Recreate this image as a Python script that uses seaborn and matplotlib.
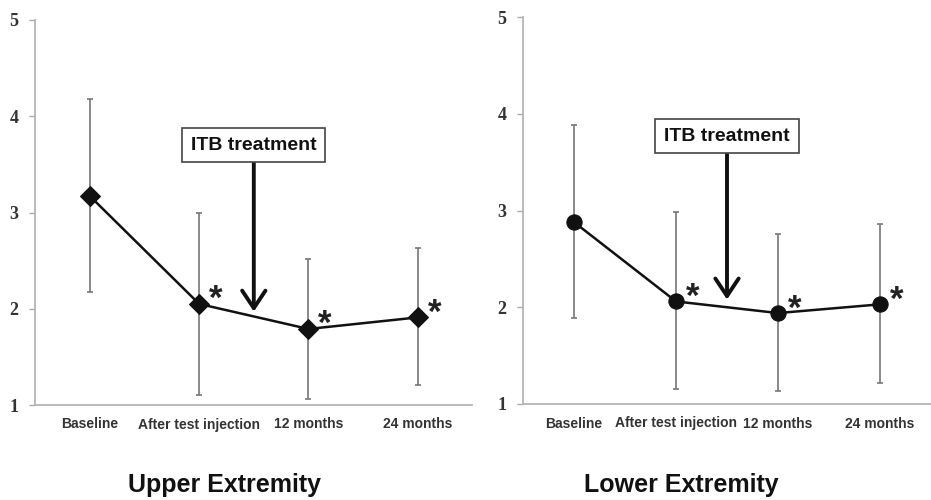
import numpy as np
import matplotlib
matplotlib.use("Agg")
import matplotlib.pyplot as plt
import seaborn as sns

# time points
categories = ["Baseline", "After test injection", "12 months", "24 months"]

# Upper extremity: mean and error bar ends
upper_mean = [3.17, 2.05, 1.79, 1.91]
upper_high = [4.18, 3.00, 2.52, 2.63]
upper_low = [2.17, 1.10, 1.06, 1.21]

# Lower extremity
lower_mean = [2.88, 2.06, 1.94, 2.03]
lower_high = [3.88, 2.98, 2.76, 2.86]
lower_low = [1.89, 1.16, 1.13, 1.22]

# which points carry a star
starred = [False, True, True, True]

yticks = [1, 2, 3, 4, 5]

sns.set_style("white")
plt.rcParams['font.family'] = ['Liberation Sans', 'DejaVu Sans']

fig = plt.figure(figsize=(9.31, 5), dpi=100)
ax1 = fig.add_axes([35.3 / 931, 0.19, 437 / 931, 0.77])
ax2 = fig.add_axes([523 / 931, 0.192, 408 / 931, 0.774])

panels = [
    (ax1, upper_mean, upper_high, upper_low, "D", 10.5, (-0.5, 3.5), 1.97, 3.70, "Upper Extremity", 225),
    (ax2, lower_mean, lower_high, lower_low, "o", 11, (-0.5, 3.42), 2.08, 3.77, "Lower Extremity", 681),
]

for ax, mean, high, low, mk, ms, xlim, arrow_y, box_y, title, title_x in panels:
    x = np.arange(len(categories))
    mean = np.array(mean)
    yerr = [mean - np.array(low), np.array(high) - mean]
    ax.errorbar(x, mean, yerr=yerr, fmt="none", ecolor="#777777",
                elinewidth=1.2, capsize=2.5, capthick=1.2, zorder=1)
    sns.lineplot(x=x, y=mean, ax=ax, color="#111111", lw=1.8, marker=mk,
                 markersize=ms, markeredgecolor="#111111", zorder=3)

    for xi, yi, s in zip(x, mean, starred):
        if s:
            ax.annotate("*", (xi, yi), xytext=(12, 3), textcoords="offset points",
                        fontsize=25, fontweight="bold", color="#222222",
                        ha="center", va="center")

    ax.annotate("ITB treatment", xy=(1.5, arrow_y), xytext=(1.5, box_y),
                ha="center", va="center", fontsize=14, fontweight="bold",
                color="#111111",
                bbox=dict(boxstyle="square,pad=0.45", fc="white", ec="#444444", lw=1.2),
                arrowprops=dict(arrowstyle="->,head_length=0.9,head_width=0.6",
                                color="#111111", lw=2.8, shrinkA=0, shrinkB=0))

    ax.set_xlim(*xlim)
    ax.set_ylim(1, 5)
    ax.set_yticks(yticks)
    ax.set_yticklabels([str(t) for t in yticks], family="Liberation Serif",
                       fontsize=13, fontweight="bold", color="#333333")
    ax.set_xticks(x)
    ax.set_xticklabels(categories, fontsize=10, fontweight="bold", color="#333333")
    ax.set_xticks([0.5, 1.5, 2.5, 3.5], minor=True)
    ax.tick_params(axis="x", which="major", length=0, pad=9)
    ax.tick_params(axis="x", which="minor", length=4, color="#aaaaaa", width=1, direction="out")
    ax.tick_params(axis="y", length=4, color="#aaaaaa", width=1, pad=8, left=True)
    for side in ["top", "right"]:
        ax.spines[side].set_visible(False)
    for side in ["left", "bottom"]:
        ax.spines[side].set_color("#b5b5b5")
        ax.spines[side].set_linewidth(1.3)
    ax.set_xlabel("")
    ax.set_ylabel("")
    fig.text(title_x / 931, 1 - 492 / 500, title, fontsize=18, fontweight="bold",
             color="#111111", ha="center", va="baseline")

fig.savefig("out.png", dpi=100)
